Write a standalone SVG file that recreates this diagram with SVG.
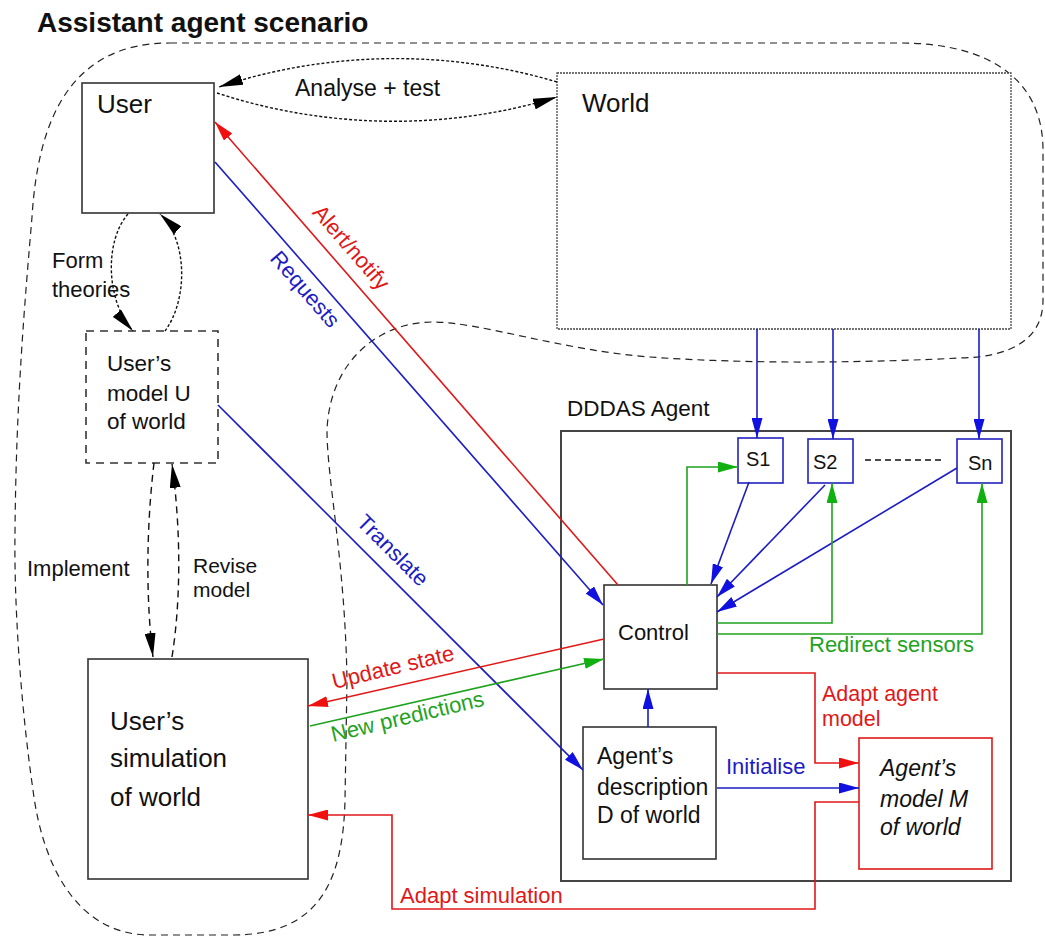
<svg xmlns="http://www.w3.org/2000/svg" width="1045" height="939" viewBox="0 0 1045 939">
<style>
text{font-family:"Liberation Sans",Arial,Helvetica,sans-serif;fill:#111}
.box{fill:#fff;stroke:#333;stroke-width:1.6}
.sbox{fill:#fff;stroke:#2222c0;stroke-width:1.6}
.lbl{font-size:22px}
.big{font-size:26px}
.bl{stroke:#1c1cc4;stroke-width:1.6;fill:none}
.rd{stroke:#e01818;stroke-width:1.6;fill:none}
.gr{stroke:#1fa31f;stroke-width:1.6;fill:none}
.bk{stroke:#111;stroke-width:1.4;fill:none}
text.tb{fill:#1c1cc4} text.tr{fill:#e01818} text.tg{fill:#1fa31f}
</style>
<defs>
<marker id="hb" markerUnits="userSpaceOnUse" markerWidth="20" markerHeight="11" viewBox="0 0 20 11" refX="20" refY="5.5" orient="auto"><path d="M0,0 L20,5.5 L0,11 z" fill="#1010e0"/></marker>
<marker id="hr" markerUnits="userSpaceOnUse" markerWidth="20" markerHeight="11" viewBox="0 0 20 11" refX="20" refY="5.5" orient="auto"><path d="M0,0 L20,5.5 L0,11 z" fill="#f01010"/></marker>
<marker id="hg" markerUnits="userSpaceOnUse" markerWidth="20" markerHeight="11" viewBox="0 0 20 11" refX="20" refY="5.5" orient="auto"><path d="M0,0 L20,5.5 L0,11 z" fill="#10b010"/></marker>
<marker id="hk" markerUnits="userSpaceOnUse" markerWidth="24" markerHeight="11" viewBox="0 0 24 11" refX="24" refY="5.5" orient="auto"><path d="M0,0 L24,5.5 L0,11 z" fill="#000"/></marker>
</defs>
<rect width="1045" height="939" fill="#fff"/>
<text x="37" y="32" style="font-size:28px;font-weight:bold">Assistant agent scenario</text>
<path id="scope" d="M170,43 L900,43 C990,43 1043,80 1043,150 L1043,300 C1043,340 1010,357 960,358 C880,362 760,365 650,357 C560,350 480,322 433,322 C380,322 330,360 327,430 C327,480 345,560 347,680 L345,800 C343,880 320,935 233,935 L150,935 C80,935 43,870 33,790 C20,700 14,600 15,533 C16,400 25,300 32,217 C38,120 70,43 170,43 Z" fill="none" stroke="#222" stroke-width="1.2" stroke-dasharray="7,5"/>
<g id="user"><rect class="box" x="82" y="83" width="132" height="130"/><text class="big" x="97" y="113">User</text></g>
<g id="world"><rect x="557" y="73" width="454" height="256" fill="#fff" stroke="#444" stroke-width="1.3" stroke-dasharray="2,1"/><text class="big" x="582" y="112">World</text></g>
<g id="users-model"><rect x="86" y="331" width="132" height="132" fill="#fff" stroke="#333" stroke-width="1.6" stroke-dasharray="8,6"/><text class="lbl" style="font-size:22.5px" x="107" y="371">User’s</text><text class="lbl" style="font-size:22.5px" x="107" y="401">model U</text><text class="lbl" style="font-size:22.5px" x="107" y="429">of world</text></g>
<g id="users-sim"><rect class="box" x="88" y="659" width="220" height="220"/><text class="big" x="110" y="730">User’s</text><text class="big" x="110" y="767">simulation</text><text class="big" x="110" y="806">of world</text></g>
<g id="dddas"><rect x="561" y="431" width="450" height="450" fill="none" stroke="#444" stroke-width="2"/><text class="lbl" style="font-size:22.5px" x="567" y="416">DDDAS Agent</text></g>
<g id="control"><rect class="box" x="604" y="585" width="113" height="104"/><text class="lbl" x="618" y="640">Control</text></g>
<g id="s1"><rect class="sbox" x="738" y="438" width="45" height="45"/><text class="lbl" style="font-size:20px" x="746" y="466">S1</text></g>
<g id="s2"><rect class="sbox" x="808" y="439" width="45" height="44"/><text class="lbl" style="font-size:20px" x="813" y="469">S2</text></g>
<g id="sn"><rect class="sbox" x="957" y="439" width="45" height="44"/><text class="lbl" style="font-size:20px" x="968" y="470">Sn</text></g>
<g id="agent-desc"><rect class="box" x="583" y="727" width="133" height="132"/><text class="lbl" style="font-size:23px" x="597" y="764">Agent’s</text><text class="lbl" style="font-size:23px" x="597" y="795">description</text><text class="lbl" style="font-size:23px" x="597" y="823">D of world</text></g>
<g id="agent-model"><rect x="859" y="738" width="133" height="131" fill="#fff" stroke="#e01818" stroke-width="1.6"/><text class="lbl" style="font-size:23px;font-style:italic" x="880" y="776">Agent’s</text><text class="lbl" style="font-size:23px;font-style:italic" x="880" y="807">model M</text><text class="lbl" style="font-size:23px;font-style:italic" x="880" y="835">of world</text></g>
<g id="connectors">
<path class="bk" stroke-dasharray="3,2" d="M557,82 C450,50 330,50 219,87" marker-end="url(#hk)"/>
<path class="bk" stroke-dasharray="3,2" d="M217,93 C330,130 450,130 557,97" marker-end="url(#hk)"/>
<text class="lbl" style="font-size:23px" x="295" y="96">Analyse + test</text>
<path class="bk" stroke-dasharray="3,2" d="M128,214 C105,240 105,300 133,331" marker-end="url(#hk)"/>
<path class="bk" stroke-dasharray="3,2" d="M165,331 C188,300 188,240 160,214" marker-end="url(#hk)"/>
<text class="lbl" x="52" y="268">Form</text><text class="lbl" x="52" y="297">theories</text>
<path class="bk" stroke-width="2" stroke-dasharray="7,5" d="M154,463 C146,530 146,600 153,657" marker-end="url(#hk)"/>
<path class="bk" stroke-width="2" stroke-dasharray="7,5" d="M172,657 C181,600 181,530 172,464" marker-end="url(#hk)"/>
<text class="lbl" x="27" y="576">Implement</text>
<text class="lbl" style="font-size:21px" x="193" y="573">Revise</text><text class="lbl" style="font-size:21px" x="193" y="597">model</text>
<line class="rd" x1="618" y1="585" x2="215" y2="122" marker-end="url(#hr)"/>
<text class="lbl tr" transform="translate(311.5,213) rotate(49)">Alert/notify</text>
<line class="bl" x1="215" y1="162" x2="603" y2="605" marker-end="url(#hb)"/>
<text class="lbl tb" transform="translate(269,259) rotate(49)">Requests</text>
<line class="bl" x1="218" y1="405" x2="583" y2="770" marker-end="url(#hb)"/>
<text class="lbl tb" transform="translate(355.5,523.5) rotate(45)">Translate</text>
<line class="rd" x1="604" y1="639" x2="308" y2="706" marker-end="url(#hr)"/>
<text class="lbl tr" transform="translate(334,689) rotate(-13.5)">Update state</text>
<line class="gr" x1="310" y1="726" x2="604" y2="659" marker-end="url(#hg)"/>
<text class="lbl tg" transform="translate(333,742) rotate(-13.5)">New predictions</text>
<line class="bl" x1="757" y1="329" x2="757" y2="438" marker-end="url(#hb)"/>
<line class="bl" x1="833" y1="329" x2="833" y2="439" marker-end="url(#hb)"/>
<line class="bl" x1="979" y1="329" x2="979" y2="439" marker-end="url(#hb)"/>
<line x1="865" y1="460" x2="943" y2="460" stroke="#111" stroke-width="1.3" stroke-dasharray="6,4"/>
<line class="bl" x1="749" y1="482" x2="711" y2="584" marker-end="url(#hb)"/>
<line class="bl" x1="825" y1="485" x2="717" y2="597" marker-end="url(#hb)"/>
<line class="bl" x1="957" y1="468" x2="717" y2="612" marker-end="url(#hb)"/>
<polyline class="gr" points="687,585 687,467 738,467" marker-end="url(#hg)"/>
<polyline class="gr" points="717,623 832,623 832,483" marker-end="url(#hg)"/>
<polyline class="gr" points="717,634 982,634 982,483" marker-end="url(#hg)"/>
<text class="lbl tg" x="809" y="652">Redirect sensors</text>
<line class="bl" x1="648" y1="727" x2="648" y2="689" marker-end="url(#hb)"/>
<line class="bl" x1="717" y1="788" x2="859" y2="788" marker-end="url(#hb)"/>
<text class="lbl tb" x="726" y="774">Initialise</text>
<polyline class="rd" points="717,673 815,673 815,763 859,763" marker-end="url(#hr)"/>
<text class="lbl tr" style="font-size:21.5px" x="822" y="701">Adapt agent</text><text class="lbl tr" style="font-size:21.5px" x="822" y="726">model</text>
<polyline class="rd" points="859,802 815,802 815,909 392,909 392,815 308,815" marker-end="url(#hr)"/>
<text class="lbl tr" x="400" y="903">Adapt simulation</text>
</g>
</svg>
